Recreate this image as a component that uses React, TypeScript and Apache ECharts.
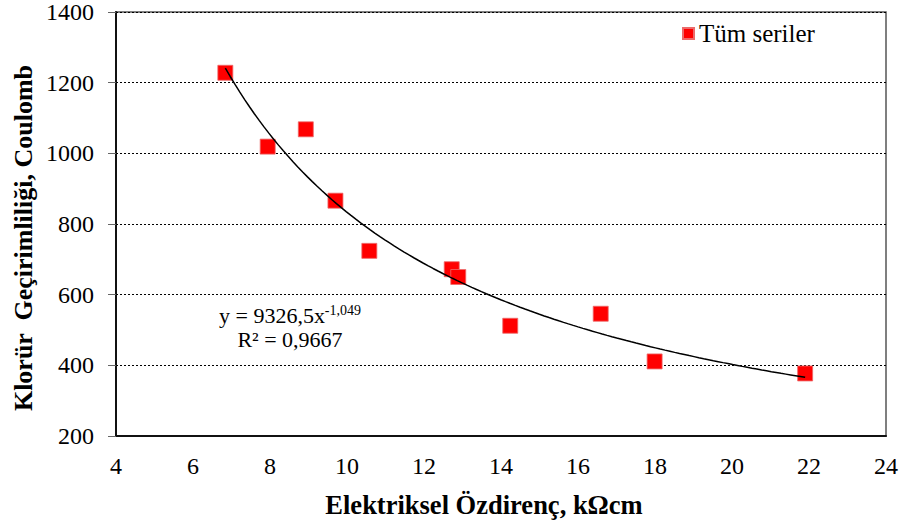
import React, { useEffect, useRef } from "react";
import * as echarts from "echarts";

// Elektriksel özdirenç (kΩcm) ve klorür geçirimliliği (Coulomb) ölçümleri
const resistivity = [6.84, 7.94, 8.93, 9.70, 10.58, 12.72, 12.89, 14.24, 16.59, 17.99, 21.90];
const chargePassed = [1228, 1019, 1068, 866, 724, 672, 650, 512, 546, 411, 377];

// Kuvvet tipi eğilim çizgisi: y = a · x^b
const fitA = 9326.5;
const fitB = -1.049;
const fitR2 = "0,9667";

const xTicks = { min: 4, max: 24, interval: 2 };
const yTicks = { min: 200, max: 1400, interval: 200 };

const xTitle = "Elektriksel Özdirenç, kΩcm";
const yTitle = "Klorür  Geçirimliliği, Coulomb";

const SERIF = "Liberation Serif";

function trendPoints(): number[][] {
  const x0 = Math.min(...resistivity);
  const x1 = Math.max(...resistivity);
  const n = 120;
  const pts: number[][] = [];
  for (let i = 0; i <= n; i++) {
    const x = x0 + ((x1 - x0) * i) / n;
    pts.push([x, fitA * Math.pow(x, fitB)]);
  }
  return pts;
}

export default function App() {
  const ref = useRef<HTMLDivElement>(null);

  useEffect(() => {
    if (!ref.current) return;
    const chart = echarts.init(ref.current, undefined, { renderer: "svg" });
    const scatterData = resistivity.map((x, i) => [x, chargePassed[i]]);

    chart.setOption({
      animation: false,
      backgroundColor: "#ffffff",
      grid: {
        left: 116,
        right: 16,
        top: 11,
        bottom: 90,
        show: true,
        borderColor: "#555555",
        borderWidth: 1.5,
        backgroundColor: "transparent",
      },
      legend: {
        show: true,
        left: 677,
        top: 16,
        icon: "rect",
        itemWidth: 11,
        itemHeight: 11,
        data: ["Tüm seriler"],
        textStyle: { fontFamily: SERIF, fontSize: 25, color: "#000" },
      },
      xAxis: {
        type: "value",
        min: xTicks.min,
        max: xTicks.max,
        interval: xTicks.interval,
        axisLine: { show: true, onZero: false, lineStyle: { color: "#111", width: 2 } },
        axisTick: { show: false },
        axisLabel: { fontFamily: SERIF, fontSize: 24, color: "#000", margin: 18 },
        splitLine: { show: false },
      },
      yAxis: {
        type: "value",
        min: yTicks.min,
        max: yTicks.max,
        interval: yTicks.interval,
        axisLine: { show: true, onZero: false, lineStyle: { color: "#111", width: 2 } },
        axisTick: { show: true, inside: false, length: 8, lineStyle: { color: "#666", width: 1 } },
        axisLabel: {
          fontFamily: SERIF,
          fontSize: 24,
          color: "#000",
          margin: 22,
          formatter: (v: number) => String(v),
        },
        splitLine: { show: true, lineStyle: { color: "#000", type: [2, 2], width: 1 } },
      },
      graphic: [
        {
          type: "text",
          x: 484,
          y: 505,
          style: {
            text: xTitle,
            align: "center",
            verticalAlign: "middle",
            fontFamily: SERIF,
            fontSize: 26.5,
            fontWeight: "bold",
            fill: "#000",
          },
        },
        {
          type: "text",
          x: 23,
          y: 238,
          rotation: Math.PI / 2,
          style: {
            text: yTitle,
            align: "center",
            verticalAlign: "middle",
            fontFamily: SERIF,
            fontSize: 26,
            fontWeight: "bold",
            fill: "#000",
          },
        },
        {
          type: "text",
          x: 290,
          y: 315,
          style: {
            text: "{m|y = 9326,5x}{s|-1,049}",
            align: "center",
            verticalAlign: "middle",
            rich: {
              m: { fontFamily: SERIF, fontSize: 22, fill: "#000", lineHeight: 24 },
              s: { fontFamily: SERIF, fontSize: 14, fill: "#000", lineHeight: 24, verticalAlign: "top" },
            },
          },
        },
        {
          type: "text",
          x: 290,
          y: 339,
          style: {
            text: "R² = " + fitR2,
            align: "center",
            verticalAlign: "middle",
            fontFamily: SERIF,
            fontSize: 22,
            fill: "#000",
          },
        },
      ],
      series: [
        {
          name: "Eğilim",
          type: "line",
          data: trendPoints(),
          showSymbol: false,
          symbol: "none",
          smooth: false,
          lineStyle: { color: "#000", width: 1.5 },
          z: 3,
          silent: true,
        },
        {
          name: "Tüm seriler",
          type: "scatter",
          data: scatterData,
          symbol: "rect",
          symbolSize: 15,
          itemStyle: { color: "#ff0000", opacity: 1, borderColor: "#ec6a6a", borderWidth: 0.8 },
          z: 2,
        },
      ],
    });

    return () => chart.dispose();
  }, []);

  return <div ref={ref} style={{ width: 902, height: 526, position: "absolute", left: 0, top: 0 }} />;
}
